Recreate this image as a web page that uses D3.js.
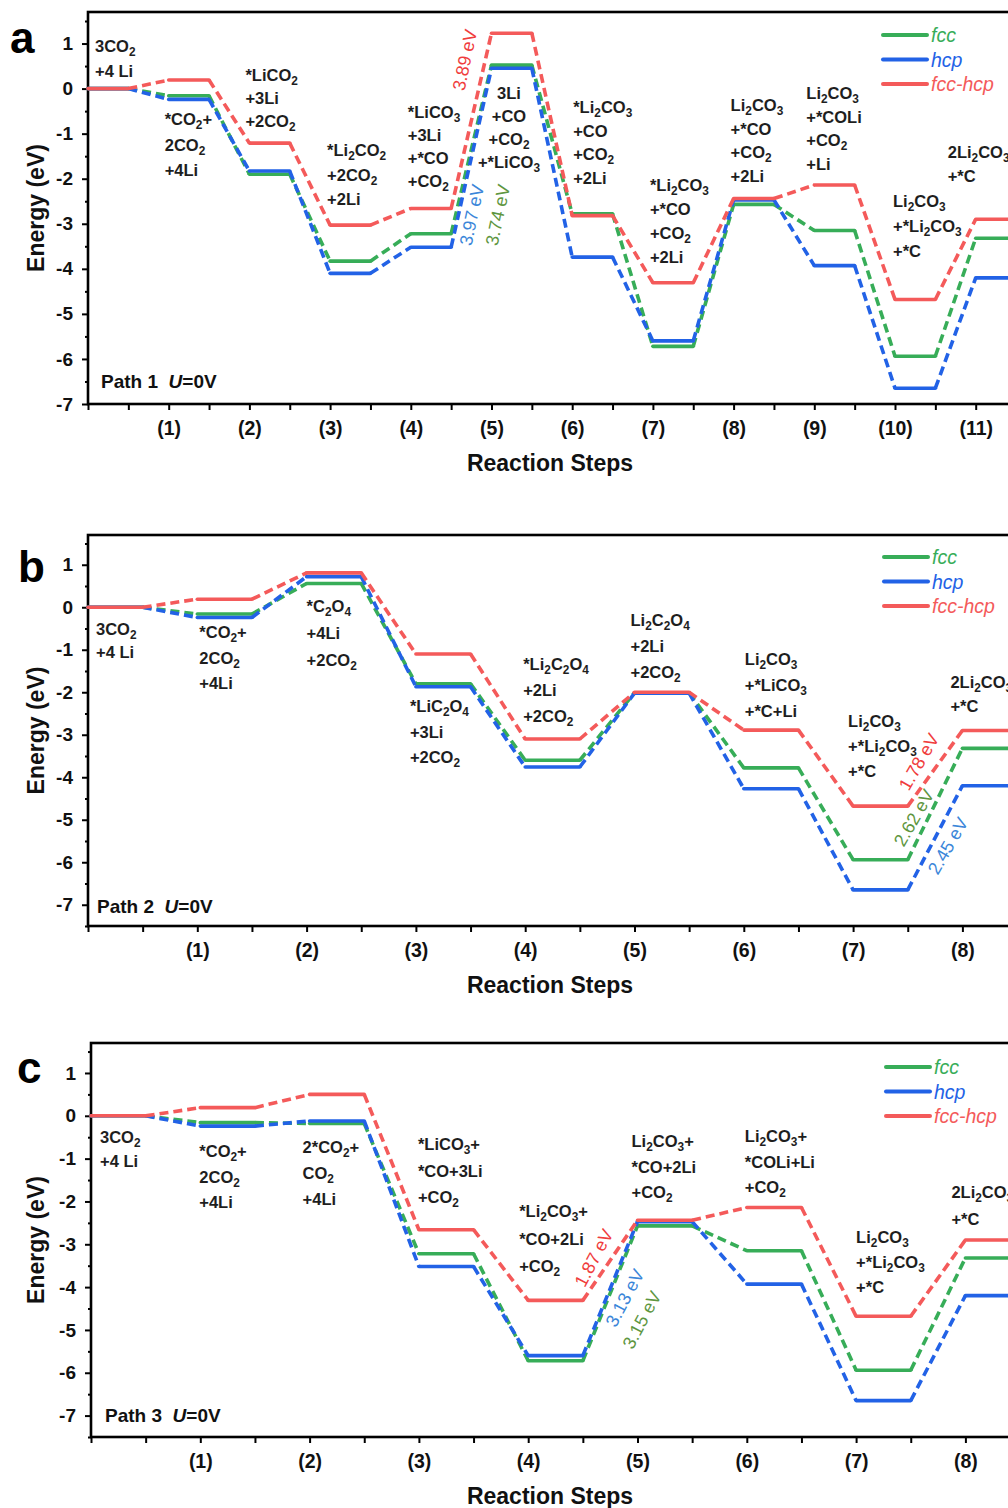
<!DOCTYPE html>
<html>
<head>
<meta charset="utf-8">
<script src="https://cdn.jsdelivr.net/npm/d3@7/dist/d3.min.js"></script>
<style>
  html, body { margin: 0; padding: 0; background: #fff; }
  svg { display: block; }
</style>
</head>
<body>
<script>
// ---------- data: free-energy levels (eV) for each reaction path ----------
const seriesNames = ["fcc", "hcp", "fcc-hcp"];

// Path 1
const path1TickLabels = ["(1)", "(2)", "(3)", "(4)", "(5)", "(6)", "(7)", "(8)", "(9)", "(10)", "(11)"];
const path1Fcc    = [0, -0.16, -1.90, -3.83, -3.22, 0.52, -2.78, -5.72, -2.57, -3.15, -5.94, -3.32];
const path1Hcp    = [0, -0.24, -1.83, -4.10, -3.52, 0.45, -3.74, -5.60, -2.47, -3.93, -6.65, -4.20];
const path1FccHcp = [0, 0.19, -1.21, -3.03, -2.66, 1.23, -2.82, -4.31, -2.44, -2.14, -4.68, -2.90];
const path1Species = [
  ["3CO2", "+4 Li"],
  ["*CO2+", "2CO2", "+4Li"],
  ["*LiCO2", "+3Li", "+2CO2"],
  ["*Li2CO2", "+2CO2", "+2Li"],
  ["*LiCO3", "+3Li", "+*CO", "+CO2"],
  ["3Li", "+CO", "+CO2", "+*LiCO3"],
  ["*Li2CO3", "+CO", "+CO2", "+2Li"],
  ["*Li2CO3", "+*CO", "+CO2", "+2Li"],
  ["Li2CO3", "+*CO", "+CO2", "+2Li"],
  ["Li2CO3", "+*COLi", "+CO2", "+Li"],
  ["Li2CO3", "+*Li2CO3", "+*C"],
  ["2Li2CO3", "+*C"]
];
const path1Barriers = ["3.89 eV", "3.97 eV", "3.74 eV"];

// Path 2
const path2TickLabels = ["(1)", "(2)", "(3)", "(4)", "(5)", "(6)", "(7)", "(8)"];
const path2Fcc    = [0, -0.16, 0.56, -1.80, -3.60, -2.01, -3.78, -5.94, -3.32];
const path2Hcp    = [0, -0.24, 0.72, -1.87, -3.76, -2.02, -4.27, -6.65, -4.20];
const path2FccHcp = [0, 0.19, 0.81, -1.10, -3.10, -2.00, -2.89, -4.68, -2.90];
const path2Species = [
  ["3CO2", "+4 Li"],
  ["*CO2+", "2CO2", "+4Li"],
  ["*C2O4", "+4Li", "+2CO2"],
  ["*LiC2O4", "+3Li", "+2CO2"],
  ["*Li2C2O4", "+2Li", "+2CO2"],
  ["Li2C2O4", "+2Li", "+2CO2"],
  ["Li2CO3", "+*LiCO3", "+*C+Li"],
  ["Li2CO3", "+*Li2CO3", "+*C"],
  ["2Li2CO3", "+*C"]
];
const path2Barriers = ["1.78 eV", "2.62 eV", "2.45 eV"];

// Path 3
const path3TickLabels = ["(1)", "(2)", "(3)", "(4)", "(5)", "(6)", "(7)", "(8)"];
const path3Fcc    = [0, -0.16, -0.18, -3.22, -5.72, -2.57, -3.15, -5.94, -3.32];
const path3Hcp    = [0, -0.24, -0.12, -3.52, -5.60, -2.47, -3.93, -6.65, -4.20];
const path3FccHcp = [0, 0.19, 0.50, -2.66, -4.31, -2.44, -2.14, -4.68, -2.90];
const path3Species = [
  ["3CO2", "+4 Li"],
  ["*CO2+", "2CO2", "+4Li"],
  ["2*CO2+", "CO2", "+4Li"],
  ["*LiCO3+", "*CO+3Li", "+CO2"],
  ["*Li2CO3+", "*CO+2Li", "+CO2"],
  ["Li2CO3+", "*CO+2Li", "+CO2"],
  ["Li2CO3+", "*COLi+Li", "+CO2"],
  ["Li2CO3", "+*Li2CO3", "+*C"],
  ["2Li2CO3", "+*C"]
];
const path3Barriers = ["1.87 eV", "3.13 eV", "3.15 eV"];

// ---------- styling ----------
const FONT = "'Liberation Sans', Arial, Helvetica, sans-serif";
const lineColors = { "fcc": "#37ad58", "hcp": "#2262e6", "fcc-hcp": "#f45a5a" };
const noteColors = { "fcc": "#5e9640", "hcp": "#3b86d9", "fcc-hcp": "#f03c3c" };

// ---------- layout for each panel ----------
// label offsets: [dx from the step position, baseline below frame top, line spacing, anchor]
const panels = [
  {
    letter: "a", letterPos: [10, 53], pathName: "Path 1",
    top: 12, bottom: 404, left: 88, step: 80.7, yDomain: [-7, 1.7],
    ticks: path1TickLabels,
    values: { "fcc": path1Fcc, "hcp": path1Hcp, "fcc-hcp": path1FccHcp },
    species: path1Species,
    labelLayout: [
      [7, 40, 25], [-4, 113, 25.5], [-4, 69, 23], [-3, 144, 24.5], [-3, 106, 23],
      [17.5, 87, 23, "middle"], [1, 101, 23.5], [-3, 179, 24], [-3, 99, 23.7],
      [-8, 87, 23.7], [-2, 195, 25], [-28, 146, 24]
    ],
    barriers: path1Barriers,
    barrierSeries: ["fcc-hcp", "hcp", "fcc"],
    barrierLayout: [[465, 60, -78], [472, 215, -78], [498, 215, -78]],
    legend: { x: 883, y: 23 },
    pathLabel: [101, 376]
  },
  {
    letter: "b", letterPos: [18, 582], pathName: "Path 2",
    top: 535, bottom: 926, left: 88, step: 109.3, yDomain: [-7.5, 1.7],
    ticks: path2TickLabels,
    values: { "fcc": path2Fcc, "hcp": path2Hcp, "fcc-hcp": path2FccHcp },
    species: path2Species,
    labelLayout: [
      [8, 100, 23], [2, 103, 25.5], [0, 77, 27], [-6, 177, 25.5], [-2, 135, 26],
      [-4, 91, 26], [1, 130, 26], [-5, 192, 25], [-12, 153, 24]
    ],
    barriers: path2Barriers,
    barrierSeries: ["fcc-hcp", "fcc", "hcp"],
    barrierLayout: [[919, 762, -60], [914, 818, -60], [948, 846, -60]],
    legend: { x: 884, y: 22 },
    pathLabel: [97, 378]
  },
  {
    letter: "c", letterPos: [17, 1083], pathName: "Path 3",
    top: 1043, bottom: 1437, left: 91, step: 109.3, yDomain: [-7.5, 1.7],
    ticks: path3TickLabels,
    values: { "fcc": path3Fcc, "hcp": path3Hcp, "fcc-hcp": path3FccHcp },
    species: path3Species,
    labelLayout: [
      [9, 100, 24], [-1, 114, 25.5], [-7, 110, 26], [-1, 107, 26.5], [-9, 174, 27.5],
      [-6, 104, 25.5], [-2, 99, 25.5], [0, 200, 25], [-14, 155, 27]
    ],
    barriers: path3Barriers,
    barrierSeries: ["fcc-hcp", "hcp", "fcc"],
    barrierLayout: [[594, 1258, -62], [625, 1298, -62], [642, 1320, -62]],
    legend: { x: 886, y: 24 },
    pathLabel: [105, 379]
  }
];

const svg = d3.select("body").append("svg")
  .attr("width", 1008).attr("height", 1508)
  .style("font-family", FONT);

// Writes a chemical formula with subscripted atom counts (digits right after a letter).
function writeFormula(sel, str) {
  const segs = [];
  for (let i = 0; i < str.length; i++) {
    const ch = str[i];
    const isDigit = /\d/.test(ch);
    const prev = i > 0 ? str[i - 1] : "";
    let sub = false;
    if (isDigit) {
      const last = segs[segs.length - 1];
      sub = /[A-Za-z]/.test(prev) || (last && last.sub && /\d/.test(prev));
    }
    const last = segs[segs.length - 1];
    if (last && last.sub === sub) last.t += ch;
    else segs.push({ t: ch, sub });
  }
  let shift = 0;
  segs.forEach(s => {
    const target = s.sub ? 4 : 0;
    const ts = sel.append("tspan").text(s.t).attr("dy", target - shift);
    if (s.sub) ts.attr("font-size", "0.72em");
    shift = target;
  });
}

panels.forEach(p => {
  const n = p.ticks.length;
  const x = d3.scaleLinear().domain([0, n + 0.5]).range([p.left, p.left + p.step * (n + 0.5)]);
  const y = d3.scaleLinear().domain(p.yDomain).range([p.bottom, p.top]);
  const g = svg.append("g");

  // --- axes ---
  const xTickVals = d3.range(0, n + 0.5 + 1e-6, 0.5).filter(v => v < n + 0.5);
  const xAxis = d3.axisBottom(x)
    .tickValues(xTickVals)
    .tickSize(6).tickPadding(11)
    .tickFormat(v => (Number.isInteger(v) && v >= 1) ? p.ticks[v - 1] : "");
  const gx = g.append("g").attr("transform", `translate(0,${p.bottom})`).call(xAxis);
  gx.select(".domain").remove();
  gx.selectAll(".tick line").attr("stroke", "#000").attr("stroke-width", 2);
  gx.selectAll(".tick text").attr("font-family", FONT).attr("font-size", 19.5)
    .attr("font-weight", "bold").attr("fill", "#111");

  const yMajor = d3.range(Math.ceil(p.yDomain[0]), Math.floor(p.yDomain[1]) + 1);
  const yMinor = d3.range(Math.ceil(p.yDomain[0] * 2) / 2, p.yDomain[1], 0.5).filter(v => !Number.isInteger(v));
  const gyMinor = g.append("g").attr("transform", `translate(${p.left},0)`)
    .call(d3.axisLeft(y).tickValues(yMinor).tickSize(3).tickFormat(""));
  gyMinor.select(".domain").remove();
  gyMinor.selectAll(".tick line").attr("stroke", "#000").attr("stroke-width", 2);
  const gy = g.append("g").attr("transform", `translate(${p.left},0)`)
    .call(d3.axisLeft(y).tickValues(yMajor).tickSize(6).tickPadding(9).tickFormat(d3.format("d")));
  gy.select(".domain").remove();
  gy.selectAll(".tick line").attr("stroke", "#000").attr("stroke-width", 2);
  gy.selectAll(".tick text").attr("font-family", FONT).attr("font-size", 19)
    .attr("font-weight", "bold").attr("fill", "#111").text(d => d < 0 ? "-" + Math.abs(d) : d);

  // frame
  g.append("rect")
    .attr("x", p.left).attr("y", p.top)
    .attr("width", x.range()[1] - p.left).attr("height", p.bottom - p.top)
    .attr("fill", "none").attr("stroke", "#000").attr("stroke-width", 2.6);

  // axis titles
  g.append("text")
    .attr("transform", `translate(36,${(p.top + p.bottom) / 2}) rotate(-90)`)
    .attr("text-anchor", "middle").attr("dominant-baseline", "central")
    .attr("font-size", 23).attr("font-weight", "bold").attr("fill", "#111")
    .text("Energy (eV)");
  g.append("text")
    .attr("x", 550).attr("y", p.bottom + 67)
    .attr("text-anchor", "middle")
    .attr("font-size", 23).attr("font-weight", "bold").attr("fill", "#111")
    .text("Reaction Steps");

  // panel letter
  g.append("text")
    .attr("x", p.letterPos[0]).attr("y", p.letterPos[1])
    .attr("font-size", 44).attr("font-weight", "bold").attr("fill", "#000")
    .text(p.letter);

  // path / potential note
  const pt = g.append("text")
    .attr("x", p.pathLabel[0]).attr("y", p.top + p.pathLabel[1])
    .attr("font-size", 19).attr("font-weight", "bold").attr("fill", "#111")
    .attr("xml:space", "preserve");
  pt.append("tspan").text(p.pathName + "  ");
  pt.append("tspan").attr("font-style", "italic").text("U");
  pt.append("tspan").text("=0V");

  // --- energy levels and dashed connectors ---
  const line = d3.line().x(d => x(d[0])).y(d => y(d[1]));
  seriesNames.forEach(name => {
    const vals = p.values[name];
    const levels = vals.map((v, i) => [[i, v], [i + 0.5, v]]);
    const links = vals.slice(0, -1).map((v, i) => [[i + 0.5, v], [i + 1, vals[i + 1]]]);
    g.append("g").selectAll("path").data(links).join("path")
      .attr("d", line).attr("fill", "none")
      .attr("stroke", lineColors[name]).attr("stroke-width", 3.6)
      .attr("stroke-dasharray", "9,5");
    g.append("g").selectAll("path").data(levels).join("path")
      .attr("d", line).attr("fill", "none")
      .attr("stroke", lineColors[name]).attr("stroke-width", 3.6)
      .attr("stroke-linecap", "round");
  });

  // --- species labels ---
  p.species.forEach((lines, i) => {
    const [dx, by, sp, anchor] = p.labelLayout[i];
    lines.forEach((ln, k) => {
      const t = g.append("text")
        .attr("x", x(i) + dx).attr("y", p.top + by + k * sp)
        .attr("text-anchor", anchor || "start")
        .attr("font-size", 16.5).attr("font-weight", "bold").attr("fill", "#1e1e1e");
      writeFormula(t, ln);
    });
  });

  // --- barrier notes ---
  p.barriers.forEach((txt, i) => {
    const [cx, cy, rot] = p.barrierLayout[i];
    g.append("text")
      .attr("transform", `translate(${cx},${cy}) rotate(${rot})`)
      .attr("text-anchor", "middle").attr("dominant-baseline", "central")
      .attr("font-size", 18).attr("fill", noteColors[p.barrierSeries[i]])
      .text(txt);
  });

  // --- legend ---
  seriesNames.forEach((name, k) => {
    const ly = p.top + p.legend.y + k * 24.5;
    g.append("line")
      .attr("x1", p.legend.x).attr("x2", p.legend.x + 44)
      .attr("y1", ly).attr("y2", ly)
      .attr("stroke", lineColors[name]).attr("stroke-width", 4).attr("stroke-linecap", "round");
    g.append("text")
      .attr("x", p.legend.x + 48).attr("y", ly)
      .attr("dominant-baseline", "central")
      .attr("font-size", 19.5).attr("font-style", "italic").attr("fill", lineColors[name])
      .text(name);
  });
});
</script>
</body>
</html>
